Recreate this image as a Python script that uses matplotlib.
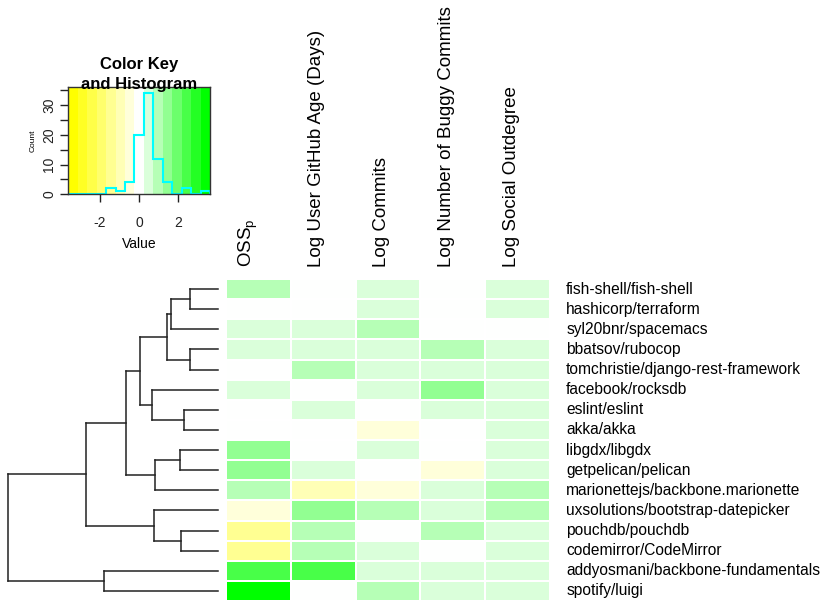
import numpy as np
import matplotlib
matplotlib.use("Agg")
import matplotlib.pyplot as plt
from matplotlib.colors import LinearSegmentedColormap, ListedColormap, BoundaryNorm

plt.rcParams['font.family'] = ['Liberation Sans', 'DejaVu Sans']
plt.rcParams['mathtext.default'] = 'regular'

# rows, top to bottom (dendrogram order)
repos = ["fish-shell/fish-shell", "hashicorp/terraform", "syl20bnr/spacemacs",
         "bbatsov/rubocop", "tomchristie/django-rest-framework", "facebook/rocksdb",
         "eslint/eslint", "akka/akka", "libgdx/libgdx", "getpelican/pelican",
         "marionettejs/backbone.marionette", "uxsolutions/bootstrap-datepicker",
         "pouchdb/pouchdb", "codemirror/CodeMirror", "addyosmani/backbone-fundamentals",
         "spotify/luigi"]
columns = ["OSS$_p$", "Log User GitHub Age (Days)", "Log Commits",
           "Log Number of Buggy Commits", "Log Social Outdegree"]

# scaled values, one list per column
oss_p   = [0.95, 0.12, 0.35, 0.40, 0.15, 0.45, -0.10, 0.08, 1.40, 1.35, 0.85, -0.55, -1.50, -1.40, 2.40, 3.62]
age     = [0.05, -0.05, 0.50, 0.60, 0.90, -0.20, 0.60, 0.18, 0.10, 0.45, -0.90, 1.30, 0.95, 1.00, 2.50, -0.10]
commits = [0.42, 0.55, 1.05, 0.48, 0.62, 0.55, 0.20, -0.40, 0.65, -0.15, -0.35, 1.05, 0.15, 0.45, 0.50, 0.85]
buggy   = [-0.10, 0.20, 0.10, 1.10, 0.58, 1.55, 0.45, -0.05, 0.00, -0.50, 0.40, 0.50, 1.00, 0.20, 0.42, 0.50]
social  = [0.38, 0.45, -0.15, 0.52, 0.40, 0.50, 0.60, 0.48, 0.55, 0.55, 1.00, 0.95, 0.40, 0.35, 0.38, 0.45]

# row dendrogram: (left node, right node, height); leaves are 0..15, new nodes from 16
merges = [(0, 1, 0.67), (16, 2, 1.12), (3, 4, 0.67), (17, 18, 1.22),
          (6, 7, 0.80), (5, 20, 1.58), (19, 21, 1.86), (8, 9, 0.91),
          (23, 10, 1.50), (22, 24, 2.19), (12, 13, 0.88), (11, 26, 1.53),
          (25, 27, 3.15), (14, 15, 2.71), (28, 29, 5.00)]

vals = np.array([oss_p, age, commits, buggy, social]).T
n_rows, n_cols = vals.shape

# symmetric breaks, yellow - white - green palette (15 colours)
lim = np.abs(vals).max()
breaks = np.linspace(-lim, lim, 16)
ramp = LinearSegmentedColormap.from_list("ywg", ["#FFFF00", "#FFFFFF", "#00FF00"])
cmap = ListedColormap([ramp(i / 14) for i in range(15)])
norm = BoundaryNorm(breaks, 15)

W, H = 830, 606
fig = plt.figure(figsize=(W / 100, H / 100), dpi=100)


def px_axes(x0, y0, x1, y1):
    return fig.add_axes([x0 / W, 1 - y1 / H, (x1 - x0) / W, (y1 - y0) / H])


# heatmap
ax = px_axes(226, 279, 550, 601)
ax.pcolormesh(np.arange(n_cols + 1), np.arange(n_rows + 1), vals, cmap=cmap, norm=norm,
              edgecolors="white", linewidth=1.1)
ax.set_xlim(0, n_cols)
ax.set_ylim(n_rows, 0)
ax.axis("off")
for i, r in enumerate(repos):
    ax.text(n_cols + 0.25, i + 0.5, r, ha="left", va="center", fontsize=11.2)
for j, c in enumerate(columns):
    ax.text(j + 0.53, -0.6, c, rotation=90, ha="right", va="bottom", fontsize=13.5)

# dendrogram
dax = px_axes(8.3, 279, 218, 601)
pos = {i: i + 0.5 for i in range(n_rows)}
hgt = {i: 0.0 for i in range(n_rows)}
for k, (a, b, h) in enumerate(merges):
    node = n_rows + k
    for c in (a, b):
        dax.plot([hgt[c], h], [pos[c], pos[c]], color="#222222", lw=1.1, clip_on=False)
    dax.plot([h, h], [pos[a], pos[b]], color="#222222", lw=1.1, clip_on=False)
    pos[node] = (pos[a] + pos[b]) / 2
    hgt[node] = h
dax.set_xlim(merges[-1][2], 0)
dax.set_ylim(n_rows, 0)
dax.axis("off")

# colour key and histogram
kax = px_axes(68.3, 87.3, 210, 194.3)
kax.pcolormesh(breaks, [0, 36], ((breaks[:-1] + breaks[1:]) / 2)[None, :], cmap=cmap, norm=norm)
counts, _ = np.histogram(vals.ravel(), bins=breaks)
kax.stairs(counts, breaks, color="cyan", lw=1.5)
kax.set_xlim(-lim, lim)
kax.set_ylim(0, 36)
kax.set_xticks([-2, 0, 2])
kax.set_xticklabels(["-2", "0", "2"], fontsize=10)
yt = list(range(0, 36, 5))
kax.set_yticks(yt)
kax.set_yticklabels([str(v) if v % 10 == 0 else "" for v in yt], fontsize=10,
                    rotation=90, va="center")
kax.tick_params(direction="out", length=5.5, width=1, colors="#222222", labelcolor="#222222")
kax.tick_params(axis="x", pad=10)
kax.tick_params(axis="y", pad=3)
for s in kax.spines.values():
    s.set_color("#333333")
    s.set_linewidth(1)
kax.set_xlabel("Value", fontsize=10, labelpad=5)
kax.set_ylabel("Count", fontsize=6, labelpad=4)
fig.text(139 / W, 1 - 92 / H, "Color Key\nand Histogram", ha="center", va="bottom",
         fontsize=12, fontweight="bold", linespacing=1.4)

fig.savefig("out.png", dpi=100)
